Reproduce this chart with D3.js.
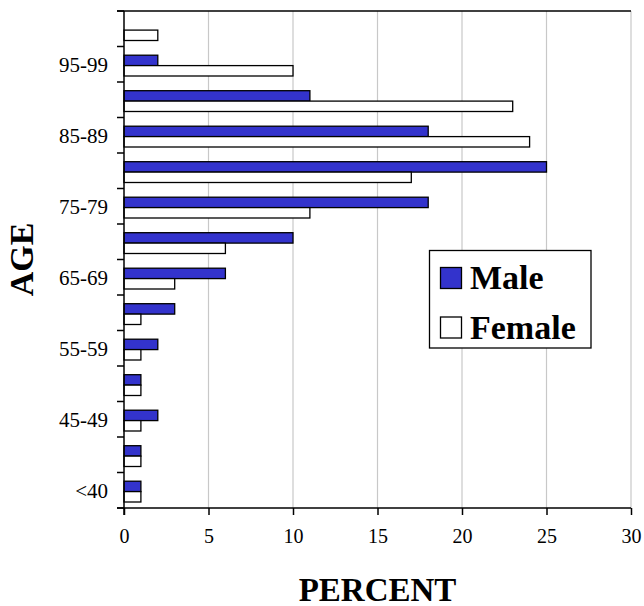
<!DOCTYPE html>
<html>
<head>
<meta charset="utf-8">
<script src="https://cdn.jsdelivr.net/npm/d3@7"></script>
<style>
  html, body { margin: 0; padding: 0; background: #fff; }
  svg { display: block; font-family: "Liberation Serif", "Times New Roman", serif; }
</style>
</head>
<body>
<svg id="chart" width="644" height="606"></svg>
<script>
const categories = ["<40","40-44","45-49","50-54","55-59","60-64","65-69","70-74","75-79","80-84","85-89","90-94","95-99","100+"];
const tickLabels = ["<40","45-49","55-59","65-69","75-79","85-89","95-99"];
const maleValues   = [1, 1, 2, 1, 2, 3, 6, 10, 18, 25, 18, 11, 2, 0];
const femaleValues = [1, 1, 1, 1, 1, 1, 3, 6, 11, 17, 24, 23, 10, 2];
const xTicks = [0, 5, 10, 15, 20, 25, 30];
const seriesNames = ["Male", "Female"];
const seriesColors = ["#3333CC", "#FFFFFF"];

const svg = d3.select("#chart");
const pLeft = 124, pRight = 631, pTop = 11, pBottom = 508;

const x = d3.scaleLinear().domain([0, 30]).range([pLeft, pRight]);
const y = d3.scaleBand().domain(categories.slice().reverse()).range([pTop, pBottom]);
const inner = d3.scaleBand().domain(seriesNames).range([8.7, 29.5]);

// gridlines
svg.append("g").selectAll("line").data(xTicks.filter(d => d > 0)).join("line")
  .attr("x1", d => x(d)).attr("x2", d => x(d))
  .attr("y1", pTop).attr("y2", pBottom)
  .attr("stroke", "#C8C8C8").attr("stroke-width", 1.2);

// top border line
svg.append("line").attr("x1", pLeft - 7).attr("x2", pRight).attr("y1", pTop).attr("y2", pTop)
  .attr("stroke", "#000").attr("stroke-width", 1.3);

// bars
const rows = categories.map((c, i) => ({cat: c, Male: maleValues[i], Female: femaleValues[i]}));
seriesNames.forEach((s, si) => {
  svg.append("g").selectAll("rect").data(rows.filter(r => r[s] > 0)).join("rect")
    .attr("x", x(0))
    .attr("y", d => y(d.cat) + inner(s))
    .attr("width", d => x(d[s]) - x(0))
    .attr("height", inner.bandwidth())
    .attr("fill", seriesColors[si])
    .attr("stroke", "#000")
    .attr("stroke-width", 1.3);
});

// x axis
const xAxis = d3.axisBottom(x).tickValues(xTicks).tickSize(7).tickPadding(14).tickSizeOuter(0);
const gx = svg.append("g").attr("transform", `translate(0,${pBottom})`).call(xAxis);
gx.select(".domain").remove();
gx.append("line").attr("x1", pLeft - 7).attr("x2", pRight).attr("y1", 0).attr("y2", 0)
  .attr("stroke", "#000").attr("stroke-width", 1.5);
gx.selectAll(".tick line").attr("stroke", "#000").attr("stroke-width", 1.5);
gx.selectAll(".tick text").attr("font-size", 20).attr("fill", "#000")
  .attr("font-family", "Liberation Serif, Times New Roman, serif");

// y axis (ticks at category boundaries)
const boundaries = d3.range(categories.length + 1).map(i => pTop + i * y.step());
const gy = svg.append("g");
gy.append("line").attr("x1", pLeft).attr("x2", pLeft).attr("y1", pTop).attr("y2", pBottom + 7)
  .attr("stroke", "#000").attr("stroke-width", 1.5);
gy.selectAll("line.bt").data(boundaries).join("line").attr("class", "bt")
  .attr("x1", pLeft - 7).attr("x2", pLeft).attr("y1", d => d).attr("y2", d => d)
  .attr("stroke", "#000").attr("stroke-width", 1.5);
gy.selectAll("text").data(tickLabels).join("text")
  .attr("x", pLeft - 16)
  .attr("y", d => y(d) + y.bandwidth() / 2)
  .attr("dy", "0.35em")
  .attr("text-anchor", "end")
  .attr("font-size", 21)
  .text(d => d);

// axis titles
svg.append("text").attr("x", (pLeft + pRight) / 2).attr("y", 601)
  .attr("text-anchor", "middle").attr("font-size", 33).attr("font-weight", "bold")
  .text("PERCENT");
svg.append("text").attr("transform", `translate(33,${(pTop + pBottom) / 2}) rotate(-90)`)
  .attr("text-anchor", "middle").attr("font-size", 34).attr("font-weight", "bold")
  .text("AGE");

// legend
const lg = svg.append("g");
lg.append("rect").attr("x", 429.5).attr("y", 250.5).attr("width", 161.5).attr("height", 97.5)
  .attr("fill", "#fff").attr("stroke", "#000").attr("stroke-width", 1.3);
const legY = [267.5, 317];
seriesNames.forEach((s, i) => {
  lg.append("rect").attr("x", 440.5).attr("y", legY[i]).attr("width", 21).attr("height", 21)
    .attr("fill", seriesColors[i]).attr("stroke", "#000").attr("stroke-width", 1.3);
  lg.append("text").attr("x", 470).attr("y", legY[i] + 21.5)
    .attr("font-size", 34).attr("font-weight", "bold").text(s);
});
</script>
</body>
</html>
